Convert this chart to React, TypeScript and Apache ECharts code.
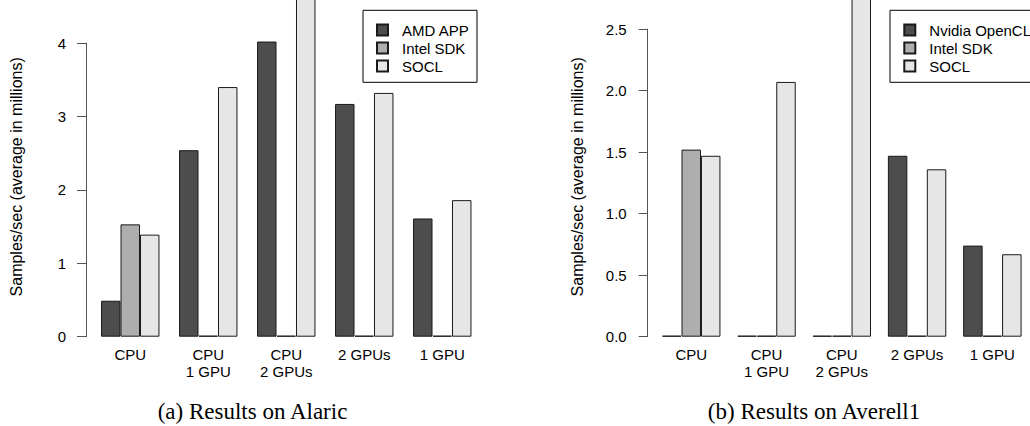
import React, { useEffect, useRef } from "react";
import * as echarts from "echarts";

const categories = ["CPU", "CPU\n1 GPU", "CPU\n2 GPUs", "2 GPUs", "1 GPU"];

const alaricSeriesNames = ["AMD APP", "Intel SDK", "SOCL"];
const alaricAMD = [0.49, 2.54, 4.02, 3.17, 1.61];
const alaricIntel = [1.53, 0, 0, 0, 0];
const alaricSOCL = [1.39, 3.4, 4.65, 3.32, 1.86];

const averellSeriesNames = ["Nvidia OpenCL", "Intel SDK", "SOCL"];
const averellNvidia = [0, 0, 0, 1.47, 0.74];
const averellIntel = [1.52, 0, 0, 0, 0];
const averellSOCL = [1.47, 2.07, 2.8, 1.36, 0.67];

const alaricTicks = { min: 0, max: 4, interval: 1 };
const averellTicks = { min: 0, max: 2.5, interval: 0.5 };

const captions = ["(a) Results on Alaric", "(b) Results on Averell1"];
const yTitle = "Samples/sec (average in millions)";

const colors = ["#4D4D4D", "#AEAEAE", "#E6E6E6"];
const SANS = "'Liberation Sans', Arial, Helvetica, sans-serif";
const SERIF = "'Liberation Serif', 'Times New Roman', serif";

export default function App() {
  const ref = useRef<HTMLDivElement>(null);

  useEffect(() => {
    if (!ref.current) return;
    const chart = echarts.init(ref.current, null, { renderer: "svg" });

    const barWidth = 19.47;
    const mkSeries = (names: string[], arrays: number[][], idx: number) =>
      arrays.map((d, i) => ({
        type: "bar",
        name: names[i],
        xAxisIndex: idx,
        yAxisIndex: idx,
        data: d,
        barWidth,
        barGap: "0%",
        barMinHeight: 1,
        clip: false,
        itemStyle: {
          color: colors[i],
          borderColor: "#1a1a1a",
          borderWidth: 1,
        },
        emphasis: { disabled: true },
      }));

    const xAxisCommon = {
      type: "category",
      data: categories,
      axisLine: { show: false },
      axisTick: { show: false },
      axisLabel: {
        interval: 0,
        margin: 9,
        fontFamily: SANS,
        fontSize: 15,
        lineHeight: 17.5,
        color: "#000",
      },
    };

    const yAxisCommon = {
      type: "value",
      splitLine: { show: false },
      axisLine: { show: true, lineStyle: { color: "#555", width: 1 } },
      axisTick: { show: true, length: 9, lineStyle: { color: "#555", width: 1 } },
      nameLocation: "middle",
      nameGap: 62,
      nameRotate: 90,
    };

    const legendCommon = {
      orient: "vertical",
      icon: "rect",
      itemWidth: 11,
      itemHeight: 11,
      itemGap: 0,
      padding: 0,
      selectedMode: false,
      textStyle: {
        fontFamily: SANS,
        fontSize: 15,
        lineHeight: 18,
        color: "#000",
        padding: [0, 0, 0, 9],
      },
    };

    chart.setOption({
      animation: false,
      grid: [
        { left: 91.25, width: 390, top: 43, bottom: 89.3 },
        { left: 653.6, width: 389.5, top: 29, bottom: 89.3 },
      ],
      xAxis: [
        { ...xAxisCommon, gridIndex: 0 },
        { ...xAxisCommon, gridIndex: 1 },
      ],
      yAxis: [
        {
          ...yAxisCommon,
          gridIndex: 0,
          min: alaricTicks.min,
          max: alaricTicks.max,
          interval: alaricTicks.interval,
          offset: 5.25,
          axisLabel: { margin: 20, fontFamily: SANS, fontSize: 15, color: "#000" },
          name: yTitle,
          nameTextStyle: {
            fontFamily: SANS,
            fontSize: 16,
            color: "#000",
            padding: [0, 0, 0, 26],
          },
        },
        {
          ...yAxisCommon,
          gridIndex: 1,
          min: averellTicks.min,
          max: averellTicks.max,
          interval: averellTicks.interval,
          offset: 5.9,
          axisLabel: {
            margin: 21,
            fontFamily: SANS,
            fontSize: 15,
            color: "#000",
            formatter: (v: number) => v.toFixed(1),
          },
          name: yTitle,
          nameTextStyle: {
            fontFamily: SANS,
            fontSize: 16,
            color: "#000",
            padding: [0, 0, 0, 12],
          },
        },
      ],
      legend: [
        { ...legendCommon, data: alaricSeriesNames, left: 376, top: 21 },
        { ...legendCommon, data: averellSeriesNames, left: 903.3, top: 21 },
      ],
      graphic: [
        {
          type: "rect",
          shape: { x: 363, y: 10.3, width: 114, height: 72 },
          style: { fill: "#fff", stroke: "#000", lineWidth: 1 },
          z: -1,
        },
        {
          type: "rect",
          shape: { x: 890, y: 10.3, width: 170, height: 72 },
          style: { fill: "#fff", stroke: "#000", lineWidth: 1 },
          z: -1,
        },
        {
          type: "text",
          x: 252.5,
          y: 411.7,
          style: {
            text: captions[0],
            fontFamily: SERIF,
            fontSize: 23,
            fill: "#000",
            textAlign: "center",
            textVerticalAlign: "middle",
          },
        },
        {
          type: "text",
          x: 814,
          y: 411.7,
          style: {
            text: captions[1],
            fontFamily: SERIF,
            fontSize: 23,
            fill: "#000",
            textAlign: "center",
            textVerticalAlign: "middle",
          },
        },
      ],
      series: [
        ...mkSeries(alaricSeriesNames, [alaricAMD, alaricIntel, alaricSOCL], 0),
        ...mkSeries(averellSeriesNames, [averellNvidia, averellIntel, averellSOCL], 1),
      ],
    });

    return () => chart.dispose();
  }, []);

  return (
    <div
      ref={ref}
      style={{ position: "absolute", left: 0, top: 0, width: 1030, height: 426, background: "#fff" }}
    />
  );
}
